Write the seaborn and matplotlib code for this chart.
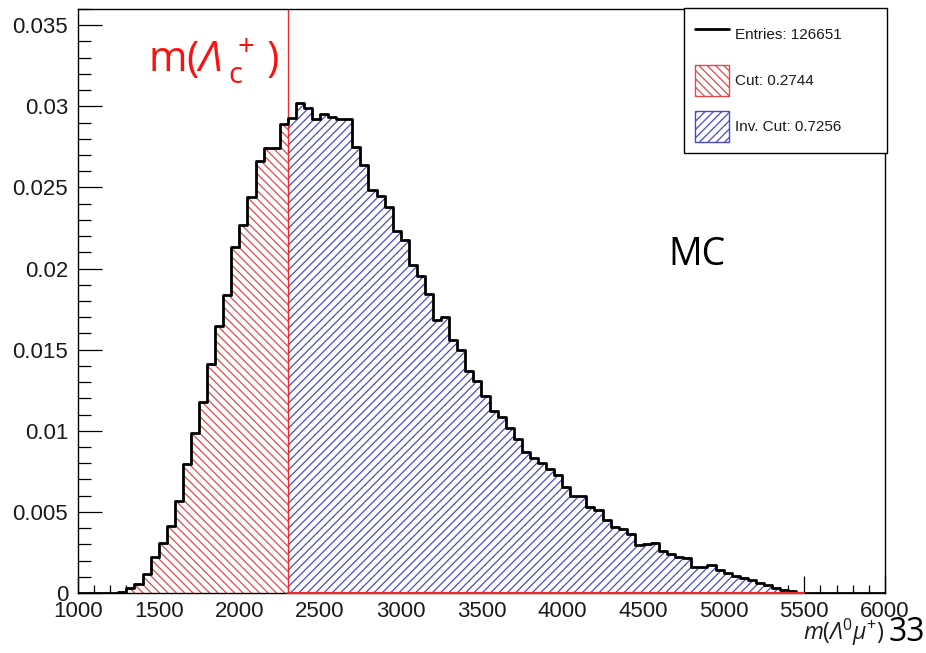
import numpy as np
import pandas as pd
import matplotlib
matplotlib.use("Agg")
import matplotlib.pyplot as plt
from matplotlib.lines import Line2D
from matplotlib.patches import Patch
from matplotlib.ticker import MultipleLocator, FuncFormatter
import seaborn as sns

# Binning of m(Lambda0 mu+) [MeV]: 100 bins of 50 MeV
bin_edges = np.linspace(1000, 6000, 101)

# Normalised bin contents (sum of all bins = 1)
bin_contents = [
    0, 0, 0, 0, 0, 0.00005, 0.0003, 0.00053, 0.00117, 0.0022,
    0.00307, 0.0041, 0.00564, 0.00796, 0.00986, 0.0118, 0.0141, 0.01644, 0.0184, 0.0213,
    0.0227, 0.02442, 0.0266, 0.02745, 0.02745, 0.0289, 0.0293, 0.0302, 0.0299, 0.0292,
    0.0295, 0.02935, 0.0292, 0.0292, 0.02747, 0.0264, 0.02482, 0.02448, 0.0238, 0.0223,
    0.02177, 0.02025, 0.01952, 0.01845, 0.01681, 0.01701, 0.01562, 0.01496, 0.01366, 0.01306,
    0.01212, 0.01122, 0.01085, 0.01017, 0.00949, 0.00872, 0.00831, 0.008, 0.00762, 0.00725,
    0.00656, 0.00595, 0.00598, 0.0053, 0.00512, 0.00451, 0.00409, 0.00393, 0.00362, 0.00296,
    0.003, 0.0031, 0.00261, 0.00241, 0.00224, 0.00214, 0.0016, 0.0016, 0.0017, 0.00142,
    0.00125, 0.00105, 0.0009, 0.0008, 0.00062, 0.00048, 0.00033, 0.00018, 0.00012, 0.00003,
    0, 0, 0, 0, 0, 0, 0, 0, 0, 0,
]

lambda_c_cut = 2300      # cut position, m(Lambda_c+)
n_entries = 126651

RED = "#e5484b"
BLUE = "#4a4ac8"
LINE_RED = "#f02a2a"
HATCH_CUT = "\\" * 4
HATCH_INV = "/" * 4

sns.set_style("ticks")
plt.rcParams["font.family"] = ["Liberation Sans", "DejaVu Sans"]
plt.rcParams["mathtext.fontset"] = "custom"
plt.rcParams["mathtext.rm"] = "Open Sans"
plt.rcParams["mathtext.it"] = "Open Sans:italic"
plt.rcParams["mathtext.cal"] = "Open Sans:italic"   # slanted capital Greek
plt.rcParams["hatch.linewidth"] = 0.9

fig = plt.figure(figsize=(9.26, 6.53), dpi=100)
ax = fig.add_axes([0.0842, 0.0919, 0.8715, 0.8943])

edges = np.asarray(bin_edges, dtype=float)
vals = np.asarray(bin_contents, dtype=float)
centers = 0.5 * (edges[:-1] + edges[1:])
icut = int(np.searchsorted(edges, lambda_c_cut))
width = float(edges[1] - edges[0])

red_vals = vals[:icut]
blue_vals = vals[icut:]
frac_cut = red_vals.sum() / vals.sum()
frac_inv = blue_vals.sum() / vals.sum()

# hatched regions below / above the cut
ax.stairs(red_vals, edges[:icut + 1], fill=True, facecolor="white",
          edgecolor=RED, hatch=HATCH_CUT, linewidth=0, zorder=1)
ax.stairs(blue_vals, edges[icut:], fill=True, facecolor="white",
          edgecolor=BLUE, hatch=HATCH_INV, linewidth=0, zorder=1)

ax.axvline(lambda_c_cut, color=LINE_RED, lw=1.0, zorder=2)

# histogram outline
df = pd.DataFrame({"m": centers, "w": vals})
sns.histplot(data=df, x="m", weights="w", binwidth=width,
             binrange=(float(edges[0]), float(edges[-1])), element="step",
             fill=False, color="black", linewidth=2.0, ax=ax, zorder=3)

last = int(np.nonzero(vals)[0].max())
ax.plot([edges[icut], edges[last + 1]], [0, 0], color=LINE_RED, lw=1.6,
        clip_on=False, zorder=6)

ax.set_xlim(1000, 6000)
ax.set_ylim(0, 0.036)
ax.set_xlabel("")
ax.set_ylabel("")

ax.xaxis.set_major_locator(MultipleLocator(500))
ax.xaxis.set_minor_locator(MultipleLocator(100))
ax.yaxis.set_major_locator(MultipleLocator(0.005))
ax.yaxis.set_minor_locator(MultipleLocator(0.001))
ax.yaxis.set_major_formatter(FuncFormatter(lambda v, p: f"{v:g}"))

ax.tick_params(which="both", direction="in", top=False, right=False,
               color="black", width=0.9, labelsize=16, labelcolor="#1a1a1a")
ax.tick_params(axis="x", which="major", length=12, pad=6)
ax.tick_params(axis="x", which="minor", length=6)
ax.tick_params(axis="y", which="major", length=17, pad=7)
ax.tick_params(axis="y", which="minor", length=9)
for s in ax.spines.values():
    s.set_color("black")
    s.set_linewidth(1.0)

handles = [
    Line2D([], [], color="black", lw=2),
    Patch(facecolor="white", edgecolor=RED, hatch=HATCH_CUT, linewidth=1),
    Patch(facecolor="white", edgecolor=BLUE, hatch=HATCH_INV, linewidth=1),
]
labels = [f"Entries: {n_entries}", f"Cut: {frac_cut:.4f}", f"Inv. Cut: {frac_inv:.4f}"]
leg = ax.legend(handles, labels, loc="upper left",
                bbox_to_anchor=(0.751, 0.7517, 0.2515, 0.25), mode="expand",
                borderaxespad=0, fontsize=11, handlelength=2.25, handleheight=2.75,
                labelspacing=1.0, borderpad=0.7, handletextpad=0.4,
                fancybox=False, edgecolor="black", framealpha=1)
leg.get_frame().set_linewidth(1.0)
for t in leg.get_texts():
    t.set_color("#1a1a1a")

fig.text(0.9557, 0.031, r"$\mathit{m(}\mathcal{\Lambda}^{0}\mathit{\mu}^{+}\mathit{)}$",
         ha="right", va="center", fontsize=16.5, color="#1a1a1a")
fig.text(0.160, 0.8897,
         r"$\mathrm{m(}{\mathcal{\Lambda}\,}_{\mathrm{c}}^{\,+}\,\mathrm{)}$",
         ha="left", va="baseline", fontsize=30, color="#ff1010")
fig.text(0.7214, 0.594, "MC", ha="left", va="baseline", fontsize=27,
         family=["Open Sans", "DejaVu Sans"], color="black")
fig.text(0.999, 0.018, "33", ha="right", va="baseline", fontsize=23,
         family=["Open Sans", "DejaVu Sans"], color="black")

fig.savefig("out.png", dpi=100)
